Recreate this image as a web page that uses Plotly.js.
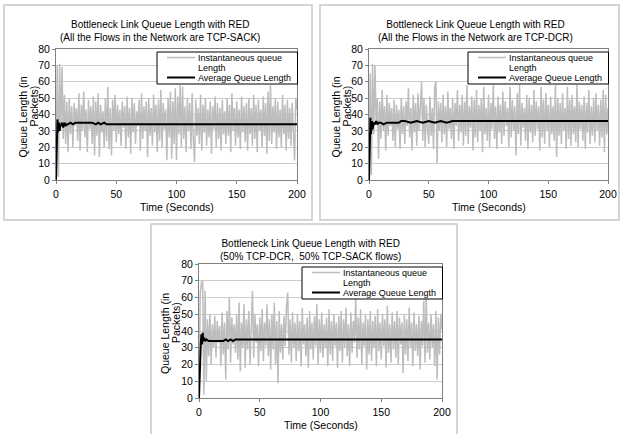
<!DOCTYPE html>
<html>
<head>
<meta charset="utf-8">
<script src="https://cdn.plot.ly/plotly-3.0.1.min.js"></script>
<style>html,body{margin:0;padding:0;background:#fff;}#chart{width:620px;height:434px;}</style>
</head>
<body>
<div id="chart"></div>
<script>
// ---------- DATA (1 sample per second) ----------
const panelTitles = [
  "Bottleneck Link Queue Length with RED<br>(All the Flows in the Network are TCP-SACK)",
  "Bottleneck Link Queue Length with RED<br>(All the Flows in the Network are TCP-DCR)",
  "Bottleneck Link Queue Length with RED<br>(50% TCP-DCR,  50% TCP-SACK flows)"
];
const legendLabels = ["Instantaneous queue", "Length", "Average Queue Length"];
const seriesNames = ["Instantaneous queue Length", "Average Queue Length"];
const xTitle = "Time (Seconds)";
const yTitle1 = "Queue Length (in";
const yTitle2 = "Packets)";
const xTicks = [0, 50, 100, 150, 200];

const instSack = [
  0,70,2,71,30,69,25,52,22,48,
  17,50,28,45,20,47,33,44,24,53,
  18,46,30,54,26,43,17,49,31,45,
  22,51,15,48,27,53,14,46,29,42,
  20,50,24,57,19,44,15,49,30,52,
  23,46,28,43,21,48,32,45,19,51,
  26,44,16,50,29,47,22,42,33,49,
  18,53,25,45,30,48,14,50,27,44,
  21,52,29,46,17,49,24,55,20,47,
  31,43,12,50,26,54,13,48,22,56,
  12,51,28,58,20,57,25,45,17,50,
  30,47,19,53,24,11,49,27,44,22,
  52,18,46,29,50,21,43,26,48,16,
  45,31,51,20,47,25,44,18,49,28,
  42,22,50,27,46,17,53,30,44,21,
  48,26,43,19,51,29,45,23,47,18,
  50,28,44,21,52,25,46,17,49,30,
  43,20,51,27,47,16,54,24,58,22,
  45,29,50,19,48,26,43,20,52,28,
  46,18,49,25,44,21,47,30,12,50,
  43
];
const instDcr = [
  0,65,3,71,28,70,35,50,13,48,
  25,55,30,45,18,52,27,47,33,44,
  24,49,20,46,31,43,19,50,28,45,
  22,48,33,56,26,44,18,52,29,47,
  21,53,30,45,60,24,50,20,46,32,
  22,51,27,44,19,57,60,10,48,30,
  47,23,52,28,45,20,54,31,44,25,
  50,19,47,33,55,24,46,29,52,21,
  48,27,58,22,45,32,51,18,49,26,
  55,23,46,30,50,17,57,28,44,24,
  52,20,47,31,58,25,45,19,51,29,
  46,22,54,27,48,33,44,20,57,26,
  49,30,45,15,53,28,58,21,47,32,
  44,24,52,19,50,29,46,23,55,27,
  48,31,45,18,57,26,49,22,53,30,
  46,20,51,28,45,24,58,14,50,27,
  47,22,53,30,44,19,57,25,49,21,
  52,28,45,23,58,20,48,31,46,24,
  51,19,47,29,55,22,45,27,50,23,
  53,30,46,21,49,26,55,17,52,28,
  44
];
const instMix = [
  0,62,69,70,2,64,10,47,25,50,
  20,44,30,49,24,46,33,43,19,51,
  26,45,11,52,29,60,21,48,32,44,
  27,50,23,57,16,45,30,56,18,47,
  29,52,20,46,64,24,50,33,44,19,
  48,28,53,22,45,31,56,25,47,17,
  50,29,57,20,46,9,52,27,44,23,
  49,31,55,63,26,47,21,51,30,45,
  22,50,28,46,19,54,32,44,25,48,
  18,52,29,45,23,49,31,56,20,47,
  27,51,24,44,30,48,19,53,26,46,
  22,50,31,45,18,49,28,52,21,47,
  30,54,25,44,19,51,27,46,33,60,
  24,48,29,53,20,45,31,50,17,47,
  26,52,22,46,30,49,19,53,28,45,
  23,50,31,47,18,55,27,44,21,51,
  29,46,24,52,20,48,32,45,15,50,
  26,47,22,54,30,45,19,51,28,44,
  25,49,17,46,31,58,21,61,27,45,
  23,50,30,44,19,52,11,48,26,50,
  41
];

const avgSackT = [0,0.8,1.2,1.6,2,2.5,3,3.5,4,5,6,7,8,9,10,12,14,16,18,20,25,30,33,35,37,40,42,44,200];
const avgSackV = [0,30,37,29,33,35,30,34,33,35,32,35,33,34,34,35,34,35,35,35,35,35,34,35,34,35,34,34,34];
const avgDcrT  = [0,0.8,1.2,1.6,2,2.5,3,4,5,6,7,8,10,12,15,20,25,27,30,35,40,45,50,55,60,65,70,200];
const avgDcrV  = [0,27,38,28,33,36,31,35,34,36,34,35,35,34,35,35,35,36,36,35,36,35,36,35,36,35,36,36];
const avgMixT  = [0,1,1.5,2,2.5,3,3.5,4,5,6,8,10,12,15,18,20,22,24,26,28,30,200];
const avgMixV  = [0,30,33,38,32,39,34,36,34,35,34,34,34,34,34,34,35,34,35,34,35,35];

// ---------- LAYOUT HELPERS ----------
const W = 620, H = 434;
const px = v => v / W;
const py = v => 1 - v / H;
const FONT = "Liberation Sans, Arial, sans-serif";
const GRAY = "#bdbdbd";

// plot areas in pixels: [left, right, top, bottom]
const areas = [[56, 297, 49, 180], [369, 608, 49, 180], [199, 442, 264, 398]];
const boxes = [[4, 312, 5, 220], [320, 619, 5, 220], [151, 457, 224, 436]];
const titleC = [[160, 31], [475, 31], [310, 249.5]];
const insts = [instSack, instDcr, instMix];
const avgs = [[avgSackT, avgSackV], [avgDcrT, avgDcrV], [avgMixT, avgMixV]];

const data = [];
const layout = {
  width: W, height: H,
  margin: {l: 0, r: 0, t: 0, b: 0},
  paper_bgcolor: "#ffffff", plot_bgcolor: "#ffffff",
  font: {family: FONT, size: 10, color: "#000"},
  showlegend: false,
  shapes: [], annotations: []
};

function ann(text, x, y, opts) {
  return Object.assign({
    text: text, xref: "paper", yref: "paper", x: px(x), y: py(y),
    xanchor: "center", yanchor: "middle", showarrow: false,
    font: {size: 10, family: FONT, color: "#000"}
  }, opts || {});
}
function hline(x0, x1, y, color, width) {
  return {type: "line", xref: "paper", yref: "paper",
    x0: px(x0), x1: px(x1), y0: py(y), y1: py(y), line: {color: color, width: width}};
}

for (let p = 0; p < 3; p++) {
  const sfx = p === 0 ? "" : String(p + 1);
  const [L, R, T, B] = areas[p];
  const vals = insts[p];
  const times = vals.map((_, i) => i);
  data.push({
    x: times, y: vals, type: "scatter", mode: "lines",
    name: seriesNames[0], line: {color: GRAY, width: 1.5},
    xaxis: "x" + sfx, yaxis: "y" + sfx, hoverinfo: "skip"
  });
  data.push({
    x: avgs[p][0], y: avgs[p][1], type: "scatter", mode: "lines",
    name: seriesNames[1], line: {color: "#000000", width: 2},
    xaxis: "x" + sfx, yaxis: "y" + sfx, hoverinfo: "skip"
  });
  layout["xaxis" + sfx] = {
    domain: [px(L), px(R)], anchor: "y" + sfx, range: [0, 200],
    tickvals: xTicks, ticks: "outside", ticklen: 3, tickcolor: "#808080",
    ticklabelstandoff: 1,
    showline: true, linecolor: "#808080", linewidth: 1, mirror: true,
    showgrid: false, zeroline: false, tickfont: {size: 10.5, family: FONT}
  };
  layout["yaxis" + sfx] = {
    domain: [py(B), py(T)], anchor: "x" + sfx, range: [0, 80], dtick: 10,
    ticks: "outside", ticklen: 3, tickcolor: "#808080",
    showline: true, linecolor: "#808080", linewidth: 1, mirror: true,
    showgrid: true, gridcolor: "#cccccc", gridwidth: 1, zeroline: false,
    tickfont: {size: 10.5, family: FONT}
  };
  // panel frame
  const [bl, br, bt, bb] = boxes[p];
  layout.shapes.push({
    type: "rect", xref: "paper", yref: "paper",
    x0: px(bl), x1: px(br), y0: py(bb), y1: py(bt),
    line: {color: "#c8c8c8", width: 1.5}
  });
  // legend (drawn as shapes + text)
  const lx0 = R - 140, ly0 = T + 3, ly1 = T + 35;
  layout.shapes.push({
    type: "rect", xref: "paper", yref: "paper",
    x0: px(lx0), x1: px(R + 0.5), y0: py(ly1), y1: py(ly0),
    line: {color: "#000000", width: 1}, fillcolor: "#ffffff", layer: "above"
  });
  layout.shapes.push(Object.assign(hline(lx0 + 10, lx0 + 38, T + 8.5, GRAY, 1.5), {layer: "above"}));
  layout.shapes.push(Object.assign(hline(lx0 + 10, lx0 + 38, T + 28.5, "#000000", 2), {layer: "above"}));
  const lf = {size: 9, family: FONT, color: "#000"};
  layout.annotations.push(ann(legendLabels[0], lx0 + 39, T + 8.5, {xanchor: "left", font: lf}));
  layout.annotations.push(ann(legendLabels[1], lx0 + 39, T + 18.5, {xanchor: "left", font: lf}));
  layout.annotations.push(ann(legendLabels[2], lx0 + 39, T + 28.5, {xanchor: "left", font: lf}));
  // titles
  layout.annotations.push(ann(panelTitles[p], titleC[p][0], titleC[p][1], {font: {size: 10, family: FONT, color: "#000"}}));
  layout.annotations.push(ann(xTitle, (L + R) / 2, B + 27, {font: {size: 10.5, family: FONT, color: "#000"}}));
  layout.annotations.push(ann(yTitle1, L - 34, (T + B) / 2 + 3, {textangle: -90, font: {size: 10.5, family: FONT, color: "#000"}}));
  layout.annotations.push(ann(yTitle2, L - 23, (T + B) / 2 - 8, {textangle: -90, font: {size: 10.5, family: FONT, color: "#000"}}));
}

Plotly.newPlot("chart", data, layout, {staticPlot: true, displayModeBar: false});
</script>
</body>
</html>
